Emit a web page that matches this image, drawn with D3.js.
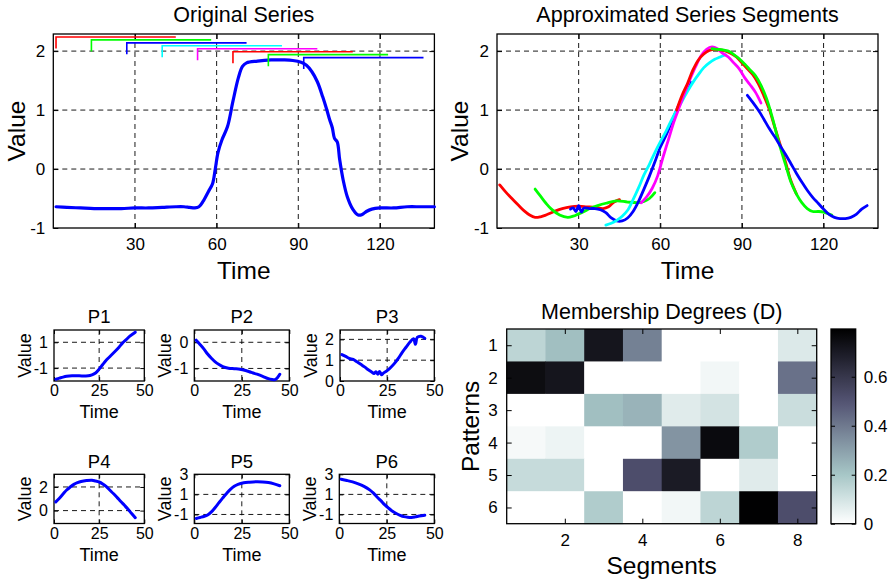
<!DOCTYPE html>
<html>
<head>
<meta charset="utf-8">
<script src="https://cdn.jsdelivr.net/npm/d3@7"></script>
<style>
  body{margin:0;background:#fff}
  text{font-family:"Liberation Sans",Arial,Helvetica,sans-serif;fill:#000}
</style>
</head>
<body>
<div id="chart"></div>
<script>
// ---- data ----
var origSeries = [[1,-0.64],[5,-0.65],[10,-0.66],[15,-0.67],[20,-0.67],[25,-0.67],[30,-0.66],[35,-0.66],[40,-0.65],[45,-0.64],[48,-0.64],[50,-0.65],[52,-0.66],[53.5,-0.64],[55,-0.55],[57,-0.38],[58.5,-0.25],[59.5,0.0],[60.5,0.28],[62,0.5],[64,0.72],[66,1.15],[68,1.55],[69.5,1.74],[71,1.8],[75,1.83],[80,1.85],[85,1.85],[88,1.84],[91,1.81],[93,1.76],[95,1.65],[97,1.48],[99,1.22],[100.5,1.0],[101.5,0.84],[102.5,0.7],[103.3,0.52],[104.3,0.46],[105.2,0.16],[106.5,-0.19],[108,-0.47],[110,-0.68],[112,-0.78],[113.5,-0.77],[115,-0.72],[117,-0.68],[120,-0.66],[125,-0.66],[130,-0.64],[135,-0.64],[140,-0.64]]

var segStarts = [1,14,27,40,53,66,79,92]
var segLength = 44
var segColors = ["#ff0000","#00ff00","#0000ff","#00ffff","#ff00ff","#ff0000","#00ff00","#0000ff"]

var seg1 = [[1,-0.27],[3,-0.38],[5,-0.48],[8,-0.62],[10,-0.71],[12,-0.78],[14,-0.82],[16,-0.81],[18,-0.78],[21,-0.72],[24,-0.67],[27,-0.64],[30,-0.63],[33,-0.64],[36,-0.65],[39,-0.67],[41,-0.64],[43,-0.56],[45,-0.52]]
var seg2 = [[14,-0.34],[16,-0.46],[18,-0.58],[20,-0.68],[23,-0.78],[26,-0.82],[28,-0.8],[30,-0.76],[32,-0.72],[34,-0.67],[37,-0.62],[40,-0.58],[44,-0.54],[48,-0.56],[52,-0.57],[54,-0.55],[56,-0.5],[58,-0.4]]
var seg3 = [[27,-0.68],[28,-0.66],[29,-0.72],[30,-0.62],[31,-0.73],[32,-0.66],[34,-0.67],[36,-0.67],[38,-0.69],[40,-0.74],[42,-0.83],[44,-0.88],[46,-0.88],[48,-0.83],[50,-0.72],[52,-0.55],[54,-0.34],[56,-0.12],[58,0.12],[60,0.37],[62,0.56],[64,0.78],[66,1.0],[68,1.2],[71,1.48]]
var seg4 = [[40,-0.95],[42,-0.92],[44,-0.87],[46,-0.8],[48,-0.7],[50,-0.52],[52,-0.32],[54,-0.1],[56,0.08],[58,0.28],[60,0.46],[62,0.63],[64,0.82],[66,1.0],[68,1.15],[70,1.32],[72,1.47],[74,1.6],[76,1.72],[78,1.8],[80,1.86],[82,1.9],[84,1.94]]
var seg5 = [[53,-0.57],[55,-0.47],[57,-0.33],[59,-0.12],[61,0.2],[63,0.5],[65,0.8],[67,1.05],[69,1.3],[71,1.53],[73,1.74],[75,1.92],[77,2.03],[79,2.07],[81,2.04],[83,1.96],[85,1.9],[87,1.8],[89,1.7],[91,1.55],[93,1.43],[95,1.3],[97,1.12]]
var seg6 = [[66,1.0],[68,1.25],[70,1.45],[72,1.68],[74,1.85],[76,1.95],[78,2.01],[80,2.03],[82,2.02],[84,2.0],[86,1.96],[88,1.9],[90,1.8],[92,1.7],[94,1.6],[96,1.45],[98,1.25],[100,1.02],[102,0.72],[104,0.42],[106,0.12],[108,-0.2],[110,-0.42]]
var seg7 = [[79,2.04],[81,2.03],[83,2.02],[85,2.0],[87,1.94],[89,1.87],[91,1.78],[93,1.68],[95,1.58],[97,1.42],[99,1.2],[101,0.9],[103,0.55],[104,0.38],[106,0.08],[108,-0.22],[110,-0.42],[112,-0.57],[114,-0.67],[116,-0.72],[118,-0.72],[120,-0.73],[123,-0.78]]
var seg8 = [[92,1.25],[94,1.13],[96,1.0],[98,0.85],[100,0.69],[102,0.55],[104,0.4],[106,0.25],[108,0.09],[110,-0.07],[112,-0.22],[114,-0.36],[116,-0.48],[118,-0.58],[120,-0.68],[122,-0.77],[124,-0.82],[126,-0.84],[128,-0.84],[130,-0.82],[132,-0.77],[134,-0.68],[136,-0.62]]
var approxSegs = [seg1,seg2,seg3,seg4,seg5,seg6,seg7,seg8]

var p1 = [[1,-1.86],[3,-1.78],[5,-1.7],[7,-1.64],[10,-1.6],[14,-1.6],[17,-1.61],[19,-1.6],[21,-1.52],[23,-1.38],[25,-1.08],[27,-0.72],[29,-0.38],[31,-0.1],[34,0.32],[36,0.62],[38,0.95],[40,1.2],[42,1.47],[45,1.78]]
var p2 = [[1,0.08],[3,-0.08],[5,-0.25],[7,-0.45],[9,-0.61],[11,-0.75],[13,-0.85],[15,-0.93],[18,-0.99],[21,-1.01],[24,-1.03],[27,-1.08],[30,-1.15],[33,-1.22],[36,-1.3],[39,-1.39],[41,-1.42],[42.5,-1.43],[44,-1.33],[45,-1.22]]
var p3 = [[1,1.27],[3,1.18],[5,1.08],[7,1.04],[9,0.92],[11,0.8],[13,0.68],[15,0.54],[17,0.42],[18,0.36],[19,0.45],[20,0.33],[21,0.46],[22,0.3],[23,0.38],[25,0.5],[27,0.66],[29,0.86],[31,1.1],[33,1.38],[35,1.62],[37,1.86],[39,2.03],[40,1.76],[41,2.1],[43,2.15],[45,2.05]]
var p4 = [[1,0.74],[3,1.05],[5,1.4],[7,1.74],[9,2.0],[11,2.22],[13,2.36],[15,2.46],[18,2.54],[21,2.57],[23,2.5],[25,2.42],[27,2.25],[29,2.02],[31,1.72],[33,1.42],[35,1.1],[37,0.77],[39,0.45],[41,0.12],[43,-0.25],[45,-0.6]]
var p5 = [[1,-1.4],[3,-1.3],[5,-1.2],[7,-1.05],[9,-0.74],[11,-0.3],[13,0.18],[15,0.65],[17,1.1],[19,1.5],[21,1.8],[23,2.0],[26,2.16],[29,2.22],[33,2.26],[36,2.24],[39,2.18],[42,2.05],[45,1.86]]
var p6 = [[1,2.5],[4,2.38],[7,2.24],[10,2.05],[13,1.8],[16,1.45],[18,1.12],[20,0.72],[22,0.35],[24,-0.05],[26,-0.38],[28,-0.68],[30,-0.9],[32,-1.08],[34,-1.22],[36,-1.28],[38,-1.3],[40,-1.24],[42,-1.15],[45,-1.07]]
var patterns = [p1,p2,p3,p4,p5,p6]
var patternNames = ["P1","P2","P3","P4","P5","P6"]
var patternYDomains = [[-2,1.95],[-1.48,0.47],[0,2.45],[-1.09,3.07],[-1.9,3.0],[-1.9,3.0]]
var patternYTicks = [[-1,1],[-1,0],[0,1,2],[0,2],[-1,1,3],[-1,1,3]]

// membership degrees: rows = patterns 1..6, cols = segments 1..8
var membership = [
  [0.15,0.22,0.72,0.38,0,0,0,0.08],
  [0.75,0.72,0,0,0,0.03,0,0.42],
  [0,0,0.22,0.25,0.07,0.10,0,0.12],
  [0.02,0.04,0,0,0.33,0.76,0.18,0],
  [0.13,0.13,0,0.52,0.70,0,0.07,0],
  [0,0,0.18,0,0.03,0.15,0.79,0.52]
]
var colorMax = 0.795
var colorTicks = [0,0.2,0.4,0.6]

// ---- drawing ----
var svg = d3.select("#chart").append("svg").attr("width",893).attr("height",584)
svg.append("rect").attr("width",893).attr("height",584).attr("fill","#fff")

// plain hyphen instead of the unicode minus
var intFmt = function(d){ return String(d) }

function panel(c){
  var x = d3.scaleLinear().domain(c.xDomain).range([c.left,c.right])
  var y = d3.scaleLinear().domain(c.yDomain).range([c.bottom,c.top])
  var g = svg.append("g")
  // grid
  g.selectAll(".gx").data(c.xTicks.filter(function(d){return x(d)>c.left+1 && x(d)<c.right-1})).enter().append("line")
    .attr("x1",function(d){return x(d)}).attr("x2",function(d){return x(d)})
    .attr("y1",c.top).attr("y2",c.bottom)
    .attr("stroke","#000").attr("stroke-width",0.9).attr("stroke-dasharray","5,4")
  g.selectAll(".gy").data(c.yTicks.filter(function(d){return y(d)>c.top+1 && y(d)<c.bottom-1})).enter().append("line")
    .attr("y1",function(d){return y(d)}).attr("y2",function(d){return y(d)})
    .attr("x1",c.left).attr("x2",c.right)
    .attr("stroke","#000").attr("stroke-width",0.9).attr("stroke-dasharray","5,4")
  // axes with inward ticks
  var tl = c.tickLen || 5
  var ax = g.append("g").attr("transform","translate(0,"+c.bottom+")")
    .call(d3.axisBottom(x).tickValues(c.xTicks).tickSize(-tl).tickPadding(tl+c.xPad).tickFormat(intFmt))
  var ay = g.append("g").attr("transform","translate("+c.left+",0)")
    .call(d3.axisLeft(y).tickValues(c.yTicks).tickSize(-tl).tickPadding(tl+c.yPad).tickFormat(intFmt))
  g.append("g").attr("transform","translate(0,"+c.top+")")
    .call(d3.axisTop(x).tickValues(c.xTicks).tickSize(-tl).tickFormat(""))
  g.append("g").attr("transform","translate("+c.right+",0)")
    .call(d3.axisRight(y).tickValues(c.yTicks).tickSize(-tl).tickFormat(""))
  g.selectAll(".domain").remove()
  g.selectAll(".tick line").attr("stroke","#000").attr("stroke-width",1)
  ax.selectAll("text").style("font-size",c.tickFont+"px").attr("fill","#000")
  ay.selectAll("text").style("font-size",c.tickFont+"px").attr("fill","#000")
  g.append("rect").attr("x",c.left).attr("y",c.top)
    .attr("width",c.right-c.left).attr("height",c.bottom-c.top)
    .attr("fill","none").attr("stroke","#000").attr("stroke-width",1.3)
  // labels
  g.append("text").attr("x",(c.left+c.right)/2).attr("y",c.titleY)
    .attr("text-anchor","middle").style("font-size",c.titleFont+"px").text(c.title)
  g.append("text").attr("x",(c.left+c.right)/2).attr("y",c.xLabelY)
    .attr("text-anchor","middle").style("font-size",c.labelFont+"px").text(c.xLabel)
  g.append("text").attr("transform","translate("+c.yLabelX+","+((c.top+c.bottom)/2)+") rotate(-90)")
    .attr("text-anchor","middle").style("font-size",c.labelFont+"px").text(c.yLabel)
  return {x:x,y:y,g:g}
}

function drawLine(p, data, color, width){
  var line = d3.line().x(function(d){return p.x(d[0])}).y(function(d){return p.y(d[1])}).curve(d3.curveCatmullRom)
  p.g.append("path").datum(data).attr("d",line)
    .attr("fill","none").attr("stroke",color).attr("stroke-width",width)
    .attr("stroke-linejoin","round").attr("stroke-linecap","round")
}

// top-left: original series
var pOrig = panel({left:53.3,right:434.4,top:34,bottom:228,xDomain:[0,140],yDomain:[-1,2.29],
  xTicks:[30,60,90,120],yTicks:[-1,0,1,2],xPad:5,yPad:3,tickFont:17,titleFont:21.5,labelFont:24.5,
  title:"Original Series",titleY:22,xLabel:"Time",xLabelY:279,yLabel:"Value",yLabelX:25})
drawLine(pOrig, origSeries, "#0000ff", 3.2)
segStarts.forEach(function(s,i){
  var lvl = 2.24 - 0.05*i
  var pts = [[s,lvl-0.195],[s,lvl],[s+segLength,lvl]]
  pOrig.g.append("path").datum(pts)
    .attr("d",d3.line().x(function(d){return pOrig.x(d[0])}).y(function(d){return pOrig.y(d[1])}))
    .attr("fill","none").attr("stroke",segColors[i]).attr("stroke-width",1.6)
})

// top-right: approximated segments
var pApprox = panel({left:497,right:878,top:34,bottom:228,xDomain:[0,140],yDomain:[-1,2.29],
  xTicks:[30,60,90,120],yTicks:[-1,0,1,2],xPad:5,yPad:3,tickFont:17,titleFont:21.5,labelFont:24.5,
  title:"Approximated Series Segments",titleY:22,xLabel:"Time",xLabelY:279,yLabel:"Value",yLabelX:468})
approxSegs.forEach(function(s,i){ drawLine(pApprox, s, segColors[i], 2.8) })

// bottom-left: patterns
var patBoxes = [
  {left:54,right:144.3,top:330,bottom:381},
  {left:194.3,right:289.3,top:330,bottom:381},
  {left:340,right:434.3,top:330,bottom:381},
  {left:54,right:144.3,top:474.3,bottom:523.5},
  {left:194.3,right:289.3,top:474.3,bottom:523.5},
  {left:339.3,right:434.3,top:474.3,bottom:523.5}
]
patterns.forEach(function(pd,i){
  var b = patBoxes[i]
  var row = i<3 ? 0 : 1
  var p = panel({left:b.left,right:b.right,top:b.top,bottom:b.bottom,xDomain:[0,50],yDomain:patternYDomains[i],
    xTicks:[0,25,50],yTicks:patternYTicks[i],xPad:0,yPad:2,tickFont:16,titleFont:18.5,labelFont:18,tickLen:4,
    title:patternNames[i],titleY:row==0?322.5:468,xLabel:"Time",xLabelY:row==0?417.5:561,
    yLabel:"Value",yLabelX:b.left-23})
  drawLine(p, pd, "#0000ff", 3)
})

// bottom-right: membership heatmap
function bone(t){
  var hr = Math.min(1,t/0.375)
  var hg = Math.max(0,Math.min(1,(t-0.375)/0.375))
  var hb = Math.max(0,Math.min(1,(t-0.75)/0.25))
  return d3.rgb(255*(7*t+hb)/8, 255*(7*t+hg)/8, 255*(7*t+hr)/8)
}
function degColor(v){ return bone(1-Math.min(1,v/colorMax)) }

var hm = {left:506.7,right:816.7,top:329,bottom:523.7}
var hx = d3.scaleLinear().domain([0.5,8.5]).range([hm.left,hm.right])
var hy = d3.scaleLinear().domain([0.5,6.5]).range([hm.top,hm.bottom])
var hg = svg.append("g")
membership.forEach(function(row,r){
  hg.selectAll(null).data(row).enter().append("rect")
    .attr("x",function(d,c){return hx(c+0.5)})
    .attr("y",hy(r+0.5))
    .attr("width",hx(1.5)-hx(0.5)+0.5)
    .attr("height",hy(1.5)-hy(0.5)+0.5)
    .attr("fill",function(d){return degColor(d)})
})
var hax = hg.append("g").attr("transform","translate(0,"+hm.bottom+")")
  .call(d3.axisBottom(hx).tickValues([2,4,6,8]).tickSize(-5).tickPadding(10).tickFormat(intFmt))
var hay = hg.append("g").attr("transform","translate("+hm.left+",0)")
  .call(d3.axisLeft(hy).tickValues([1,2,3,4,5,6]).tickSize(-5).tickPadding(9).tickFormat(intFmt))
hg.append("g").attr("transform","translate(0,"+hm.top+")")
  .call(d3.axisTop(hx).tickValues([2,4,6,8]).tickSize(-5).tickFormat(""))
hg.append("g").attr("transform","translate("+hm.right+",0)")
  .call(d3.axisRight(hy).tickValues([1,2,3,4,5,6]).tickSize(-5).tickFormat(""))
hg.selectAll(".domain").remove()
hg.selectAll(".tick line").attr("stroke","#000")
hg.selectAll(".tick text").style("font-size","17px").attr("fill","#000")
hg.append("rect").attr("x",hm.left).attr("y",hm.top).attr("width",hm.right-hm.left).attr("height",hm.bottom-hm.top)
  .attr("fill","none").attr("stroke","#000").attr("stroke-width",1.3)
hg.append("text").attr("x",(hm.left+hm.right)/2).attr("y",319).attr("text-anchor","middle")
  .style("font-size","21.5px").text("Membership Degrees (D)")
hg.append("text").attr("x",(hm.left+hm.right)/2).attr("y",574).attr("text-anchor","middle")
  .style("font-size","24.5px").text("Segments")
hg.append("text").attr("transform","translate(479,"+((hm.top+hm.bottom)/2)+") rotate(-90)")
  .attr("text-anchor","middle").style("font-size","24.5px").text("Patterns")

// colorbar
var cb = {left:831,right:855.7,top:329,bottom:523.7}
var cy = d3.scaleLinear().domain([0,colorMax]).range([cb.bottom,cb.top])
var grad = svg.append("defs").append("linearGradient").attr("id","cbgrad")
  .attr("x1",0).attr("y1",1).attr("x2",0).attr("y2",0)
d3.range(0,1.0001,0.05).forEach(function(t){
  grad.append("stop").attr("offset",t).attr("stop-color",degColor(t*colorMax))
})
var cg = svg.append("g")
cg.append("rect").attr("x",cb.left).attr("y",cb.top).attr("width",cb.right-cb.left).attr("height",cb.bottom-cb.top)
  .attr("fill","url(#cbgrad)")
var cax = cg.append("g").attr("transform","translate("+cb.right+",0)")
  .call(d3.axisRight(cy).tickValues(colorTicks).tickSize(-4).tickPadding(8).tickFormat(function(d){return d==0?"0":d3.format(".1f")(d)}))
cg.append("g").attr("transform","translate("+cb.left+",0)")
  .call(d3.axisLeft(cy).tickValues(colorTicks).tickSize(-4).tickFormat(""))
cg.selectAll(".domain").remove()
cg.selectAll(".tick line").attr("stroke","#000")
cg.selectAll(".tick text").style("font-size","17px").attr("fill","#000")
cg.append("rect").attr("x",cb.left).attr("y",cb.top).attr("width",cb.right-cb.left).attr("height",cb.bottom-cb.top)
  .attr("fill","none").attr("stroke","#000").attr("stroke-width",1.3)
</script>
</body>
</html>
